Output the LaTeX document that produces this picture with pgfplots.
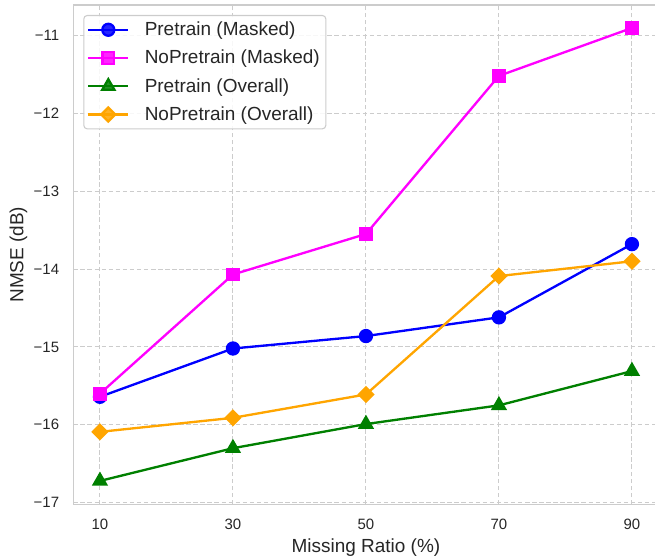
\documentclass[border=0pt]{standalone}
\usepackage{fontspec}
\setmainfont{Liberation Sans}
\usepackage{pgfplots}
\pgfplotsset{compat=1.18}

\definecolor{mplblue}{RGB}{0,0,255}
\definecolor{mplmagenta}{RGB}{255,0,255}
\definecolor{mplgreen}{RGB}{0,128,0}
\definecolor{mplorange}{RGB}{255,165,0}
\definecolor{gridgray}{RGB}{204,204,204}
\definecolor{spinegray}{RGB}{204,204,204}
\definecolor{textgray}{RGB}{38,38,38}

\begin{document}
\begin{tikzpicture}
\begin{axis}[
  name=ax,
  scale only axis,
  width=439.5pt, height=375pt,
  xmin=6, xmax=94,
  ymin=-17.02, ymax=-10.61,
  xtick={10,30,50,70,90},
  xticklabels={10,30,50,70,90},
  ytick={-17,-16,-15,-14,-13,-12,-11},
  yticklabels={−17,−16,−15,−14,−13,−12,−11},
  major tick length=0pt,
  tick style={draw=none},
  axis line style={draw=spinegray, line width=0.9pt},
  grid=major,
  major grid style={draw=gridgray, line width=0.8pt, dash pattern=on 3.4pt off 1.9pt},
  ticklabel style={font=\fontsize{11.25pt}{13pt}\selectfont, text=textgray},
  xticklabel style={anchor=base, inner sep=0pt, yshift=-18.75pt},
  yticklabel style={anchor=east, inner sep=0pt, xshift=-10.5pt},
  xlabel={Missing Ratio (\%)},
  ylabel={NMSE (dB)},
  label style={font=\fontsize{14.25pt}{16pt}\selectfont, text=textgray},
  xlabel style={at={(axis description cs:0.5,-0.096)}, anchor=base, inner sep=0pt},
  ylabel style={at={(axis description cs:-0.0853,0.5)}, anchor=base, inner sep=0pt},
  legend image code/.code={\draw[mark repeat=2,mark phase=2,#1] plot coordinates {(0pt,0pt) (15pt,0pt) (30pt,0pt)};},
  legend cell align=left,
  legend style={
    at={(axis description cs:0.017,0.98)}, anchor=north west,
    draw=spinegray, line width=0.8pt, rounded corners=2.5pt,
    fill=white, fill opacity=0.85, text opacity=1,
    font=\fontsize{14.25pt}{16pt}\selectfont, text=textgray,
    inner xsep=2.5pt, inner ysep=2.8pt,
    row sep=5.4pt,
    /tikz/every odd column/.append style={column sep=9.5pt},
  },
]
\addplot[color=mplblue, line width=1.75pt, mark=*, mark size=4.5pt, mark options={solid}]
  coordinates {(10,-15.64) (30,-15.02) (50,-14.86) (70,-14.62) (90,-13.68)};
\addlegendentry{Pretrain (Masked)}
\addplot[color=mplmagenta, line width=1.75pt, mark=square*, mark size=4.3pt, mark options={solid}]
  coordinates {(10,-15.60) (30,-14.07) (50,-13.55) (70,-11.52) (90,-10.905)};
\addlegendentry{NoPretrain (Masked)}
\addplot[color=mplgreen, line width=1.75pt, mark=triangle*, mark size=5.3pt, mark options={solid}]
  coordinates {(10,-16.72) (30,-16.30) (50,-15.99) (70,-15.75) (90,-15.31)};
\addlegendentry{Pretrain (Overall)}
\addplot[color=mplorange, line width=1.75pt, mark=square*, mark size=3.7pt, mark options={solid, rotate=45}]
  coordinates {(10,-16.09) (30,-15.91) (50,-15.61) (70,-14.09) (90,-13.90)};
\addlegendentry{NoPretrain (Overall)}
\end{axis}
\pgfresetboundingbox
\path[use as bounding box] ([xshift=-55.1pt,yshift=-38.25pt]ax.south west)
  rectangle ([xshift=-2.65pt,yshift=3.75pt]ax.north east);
\end{tikzpicture}
\end{document}
